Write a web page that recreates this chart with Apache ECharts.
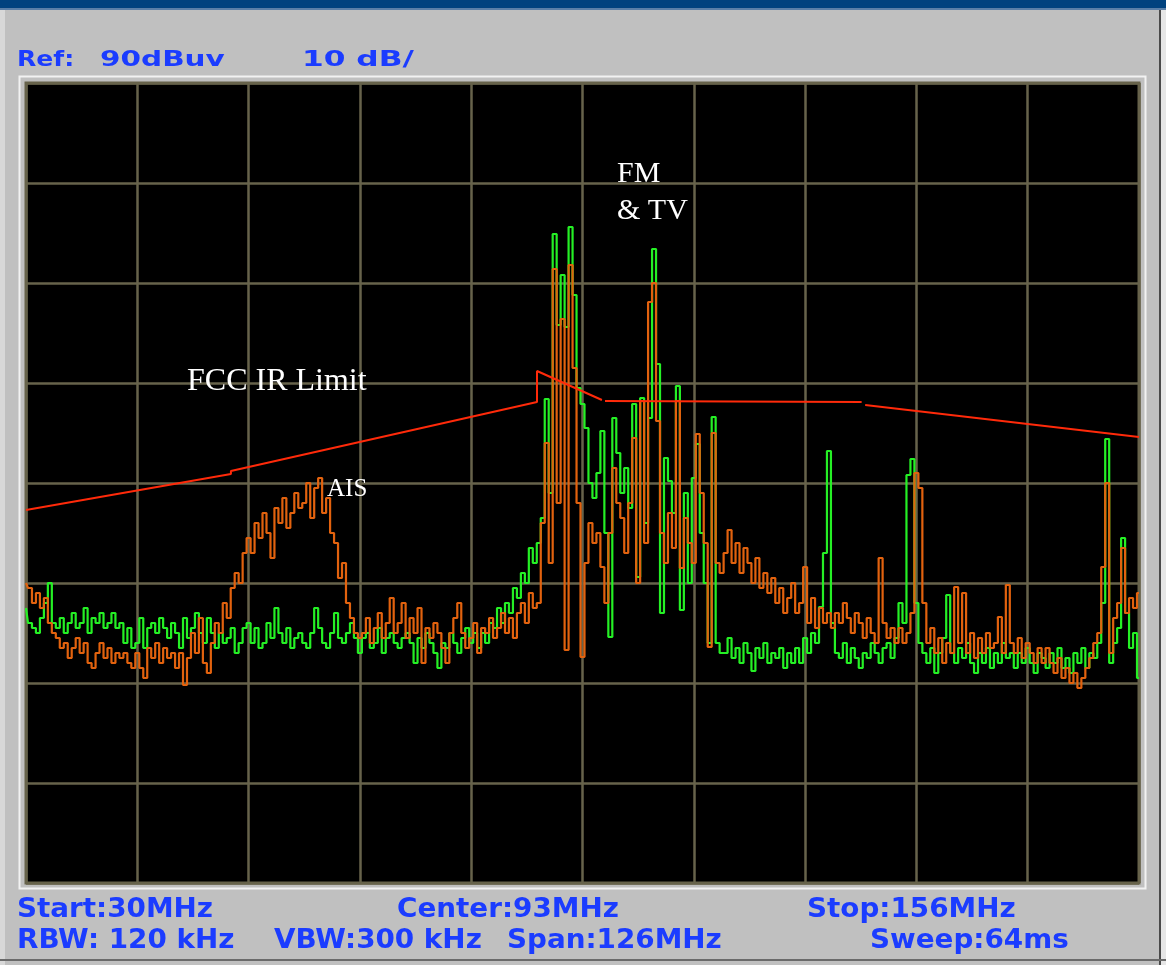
<!DOCTYPE html>
<html>
<head>
<meta charset="utf-8">
<script src="https://cdn.jsdelivr.net/npm/echarts@6/dist/echarts.min.js"></script>
<style>
  html, body { margin: 0; padding: 0; background: #c0c0c0; }
  #chart { width: 1166px; height: 965px; }
</style>
</head>
<body>
<div id="chart"></div>
<script>
// Sweep settings
const START_MHZ = 30;
const STOP_MHZ = 156;
const REF_DBUV = 90;
const DB_PER_DIV = 10;
const Y_DIVS = 8;
const X_DIVS = 10;

// Trace A (green): dBuV per sweep point, 30 -> 156 MHz
const traceGreen = [
  37.5, 36, 35.5, 35, 36.5, 38, 40, 36, 35.5, 36.5, 35, 36, 37, 35.5, 36, 37.5, 35, 36.5, 36, 37, 35.5, 36, 37, 35.5, 36, 34, 35.5, 33.5,
  34, 36.5, 33.5, 35.5, 36, 35, 36.5, 35.5, 34.5, 36, 35, 33.5, 36.5, 34.5, 35.5, 37, 35, 34, 36.5, 35, 33.5, 35, 34, 34.5, 35.5, 33, 34, 35.5, 36,
  34, 35.5, 33.5, 34, 36, 34.5, 37.5, 35, 34, 35.5, 33.5, 34.5, 35, 34, 33.5, 35, 37.5, 35.5, 34, 33.5, 35, 37, 34.5, 34, 35, 36, 34.5, 33,
  34.5, 35, 33.5, 34, 35.5, 33, 34.5, 35, 34, 33.5, 34.5, 35, 34, 32, 34.5, 33.5, 35, 34, 33, 31.5, 34, 33.5, 35, 34, 33, 34.5, 35.5, 34, 35, 33.5, 35,
  34, 36, 35.5, 37.5, 36, 38, 37, 39.5, 38.5, 41, 40, 43.5, 42, 44, 46.5,
  58.4, 49, 74.9, 65.8, 70.8, 65.6, 75.6, 68.8, 59.5, 57.9, 55.5, 50, 48.5, 51, 55.2, 45, 34.6, 56.5, 53, 49, 51.5, 47.5, 57.9, 40.6, 58.5, 46, 56.5, 73.4, 61.9, 37, 52.5, 50.2, 47, 59.7, 37.3, 49, 40, 50.5, 53.9, 45, 40, 34, 56.6, 34, 33,
  33, 34.5, 32.5, 33.5, 32, 34, 33, 31.2, 33.5, 32.5, 34, 32, 33, 32.5, 33.5, 31.5, 33, 32, 33.5, 32, 34.5, 33, 35, 34, 37.6, 43, 53.2, 36, 33, 32.5, 34, 32, 33.5, 32.5, 31.5, 33, 32.5, 34, 33, 32, 33.5, 34, 32.5, 34.5, 38, 36, 50.8, 52.4, 38,
  34, 33, 32, 33.5, 31, 33, 34.5, 38.8, 33, 32, 33.5, 32.5, 34, 32, 31, 33, 32, 33.5, 31.5, 33, 32, 34, 32.5, 33, 31.5, 33, 32, 33.5, 32, 31, 33, 32.5, 31.5, 33, 32, 33.5, 31.5, 32.5, 31, 33, 32, 33.5, 31.5, 33, 32.5, 34, 38, 54.4, 32, 34, 35.5, 44.5, 37, 33.5, 35, 30.5
];

// Trace B (orange): dBuV per sweep point, 30 -> 156 MHz
const traceOrange = [
  40, 39.5, 38, 39, 37.5, 38.5, 36, 35, 34.5, 33.5, 34, 32.5, 33.5, 34.5, 33, 34, 32, 31.5, 33, 34, 32.5, 33.5, 32, 33, 32.5, 33, 32, 31.5,
  33, 31.5, 30.5, 33.5, 32.5, 34, 32, 33.5, 32.5, 33, 31.5, 33, 29.8, 32.5, 35, 33, 36.5, 32, 31, 34, 36, 35, 38, 36.5, 39.5, 41, 40, 43, 44.5,
  43, 46, 44.5, 47, 45, 42.5, 47.5, 46, 48.5, 45.5, 47, 49, 47.5, 48, 50, 46.5, 49.5, 50.5, 47, 48.5, 45, 44, 40.5, 42, 38, 36.5, 35, 34.5,
  35, 36.5, 34, 35.5, 37, 34.5, 36, 38.5, 35, 36, 38, 34.5, 36.5, 35, 37.5, 32, 35.5, 34.5, 36, 35, 33.5, 32, 35, 36.5, 38, 35, 33.5, 34.5, 36, 33, 35.5,
  35, 36.5, 34.5, 35.5, 37, 35, 36.5, 34.5, 37, 38, 36, 39, 37.5, 38, 46,
  54, 42, 71.4, 48, 66.4, 33.3, 71.8, 61.5, 48, 32.6, 42, 46, 44, 45, 41.6, 38, 45, 51.5, 48, 46.5, 43, 48, 54.5, 40, 58.2, 44, 68.1, 70, 56.2, 45, 42, 47, 43.5, 58.2, 41.5, 46.5, 44, 42, 54.9, 49, 44, 33.6, 55, 42, 41,
  43, 45.3, 42, 44, 41, 43.5, 42, 40, 42.5, 39.5, 41, 39, 40.5, 38, 39.5, 37, 38.5, 40, 37, 38, 41.6, 36, 38.5, 35.5, 37.5, 36, 37, 35.5, 37, 36, 38, 36.5, 35, 37, 36, 34.5, 36.5, 35, 34, 42.5, 36, 34.5, 35.5, 34, 35.5, 34, 35, 37, 51,
  49.5, 38, 34, 35.5, 33, 34.5, 32, 34, 33, 39.6, 34, 39, 33, 35, 32.5, 34.5, 33, 35, 33.5, 34, 36.6, 33, 39.8, 34, 33, 34.5, 32.5, 34, 33, 32, 33.5, 32, 33.5, 32, 31, 32.5, 30.5, 31.5, 30, 31, 29.5, 30.5, 31.5, 32.5, 34, 35, 41.6, 50, 33, 36.5, 38, 43.5, 37, 38.5, 37.5, 39
];

// FCC limit polyline (MHz, dBuV); null marks a break in the line
const limitMHz = [30, 53.2, 53.2, 87.85, 87.85, 95.2, 95.4, 95.55, 124.6, 124.8, 125.0, 156];
const limitDb  = [47.3, 50.9, 51.2, 58.1, 61.2, 58.3, null, 58.2, 58.1, null, 57.8, 54.6];

// Annotations
const notes = [
  { text: 'FCC IR Limit', x: 187, base: 392, size: 32 },
  { text: 'FM', x: 617, base: 184, size: 30 },
  { text: '& TV', x: 617, base: 221, size: 30 },
  { text: 'AIS', x: 327, base: 498, size: 25 }
];

// Instrument readouts
const headerTexts = [
  { text: 'Ref:', x: 17, sx: 1.14 },
  { text: '90dBuv', x: 100, sx: 1.34 },
  { text: '10 dB/', x: 302, sx: 1.42 }
];
const footerTexts = [
  { text: 'Start:30MHz', x: 17, row: 0 },
  { text: 'Center:93MHz', x: 397, row: 0 },
  { text: 'Stop:156MHz', x: 807, row: 0 },
  { text: 'RBW: 120 kHz', x: 17, row: 1 },
  { text: 'VBW:300 kHz', x: 274, row: 1 },
  { text: 'Span:126MHz', x: 507, row: 1 },
  { text: 'Sweep:64ms', x: 870, row: 1 }
];

function toPairs(trace) {
  const step = (STOP_MHZ - START_MHZ) / (trace.length - 1);
  return trace.map((v, i) => [START_MHZ + i * step, v]);
}

const limitPairs = limitMHz.map((f, i) => [f, limitDb[i] === null ? '-' : limitDb[i]]);

const chart = echarts.init(document.getElementById('chart'), null, { renderer: 'canvas' });

const BLUE = '#1b3cff';
const GRID_COLOR = '#67634b';

const graphics = [
  // title bar
  { type: 'rect', shape: { x: 0, y: 0, width: 1166, height: 8 }, style: { fill: '#00427f' }, z: 1 },
  { type: 'rect', shape: { x: 0, y: 8, width: 1166, height: 2 }, style: { fill: '#5a7fa8' }, z: 1 },
  // window edge on the right and bottom
  { type: 'rect', shape: { x: 1159, y: 10, width: 2, height: 955 }, style: { fill: '#4a4a4a' }, z: 1 },
  { type: 'rect', shape: { x: 1161, y: 10, width: 5, height: 955 }, style: { fill: '#e6e6e6' }, z: 1 },
  { type: 'rect', shape: { x: 0, y: 10, width: 5, height: 955 }, style: { fill: '#d8d8d8' }, z: 1 },
  { type: 'rect', shape: { x: 0, y: 959, width: 1166, height: 2 }, style: { fill: '#6a6a6a' }, z: 1 },
  // light frame around the screen
  { type: 'rect', shape: { x: 19.5, y: 76.5, width: 1126, height: 812 }, style: { fill: null, stroke: '#f2f2f2', lineWidth: 2 }, z: 1 }
];

headerTexts.forEach(h => {
  graphics.push({
    type: 'text', x: h.x, y: 60, scaleX: h.sx, z: 10,
    style: { text: h.text, fill: BLUE, font: 'bold 22px "DejaVu Sans"', verticalAlign: 'middle', align: 'left' }
  });
});
footerTexts.forEach(f => {
  graphics.push({
    type: 'text', x: f.x, y: f.row === 0 ? 910 : 941, scaleX: 1.03, z: 10,
    style: { text: f.text, fill: BLUE, font: 'bold 27px "DejaVu Sans"', verticalAlign: 'middle', align: 'left' }
  });
});
notes.forEach(n => {
  graphics.push({
    type: 'text', x: n.x, y: n.base - 0.335 * n.size, z: 20,
    style: { text: n.text, fill: '#ffffff', font: n.size + 'px "Liberation Serif"', verticalAlign: 'middle', align: 'left' }
  });
});

const option = {
  backgroundColor: '#c0c0c0',
  animation: false,
  grid: {
    left: 26, right: 27, top: 83, bottom: 82,
    show: true, backgroundColor: '#000000', borderColor: GRID_COLOR, borderWidth: 3
  },
  xAxis: [
    { type: 'value', min: START_MHZ, max: STOP_MHZ, show: false },
    {
      type: 'value', min: 0, max: X_DIVS, interval: 1, position: 'bottom',
      axisLine: { show: false }, axisTick: { show: false }, axisLabel: { show: false },
      splitLine: { show: true, lineStyle: { color: GRID_COLOR, width: 2.5 } }
    }
  ],
  yAxis: {
    type: 'value', min: REF_DBUV - DB_PER_DIV * Y_DIVS, max: REF_DBUV, interval: DB_PER_DIV,
    axisLine: { show: false }, axisTick: { show: false }, axisLabel: { show: false },
    splitLine: { show: true, lineStyle: { color: GRID_COLOR, width: 2.5 } }
  },
  series: [
    {
      name: 'Trace A', type: 'line', xAxisIndex: 0, data: toPairs(traceGreen),
      step: 'middle', symbol: 'none', z: 3,
      lineStyle: { color: '#25f025', width: 2.2 }
    },
    {
      name: 'Trace B', type: 'line', xAxisIndex: 0, data: toPairs(traceOrange),
      step: 'middle', symbol: 'none', z: 4,
      lineStyle: { color: '#e2620e', width: 2.2 }
    },
    {
      name: 'FCC IR Limit', type: 'line', xAxisIndex: 0, data: limitPairs,
      symbol: 'none', z: 5, connectNulls: false,
      lineStyle: { color: '#ff2a0a', width: 2 }
    }
  ],
  graphic: graphics
};

chart.setOption(option);
</script>
</body>
</html>
